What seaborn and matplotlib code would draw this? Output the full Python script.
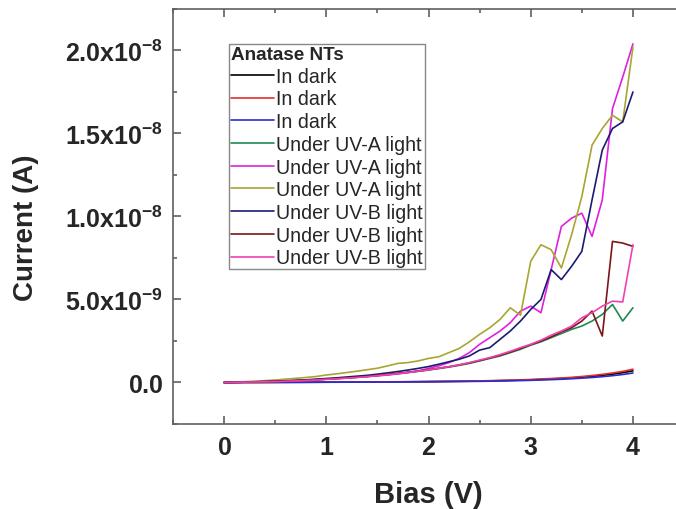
import numpy as np
import pandas as pd
import matplotlib
matplotlib.use("Agg")
import matplotlib.pyplot as plt
from matplotlib.ticker import MultipleLocator, FuncFormatter
import seaborn as sns

# Bias sweep, 0 to 4 V in 0.1 V steps
bias_v = [round(0.1 * i, 1) for i in range(41)]

# Measured currents in nA (1e-9 A)
dark_1_nA = [0, 0.002, 0.004, 0.005, 0.007, 0.009, 0.011, 0.012, 0.014, 0.016, 0.018,
             0.02, 0.023, 0.026, 0.028, 0.031, 0.034, 0.038, 0.042, 0.047, 0.052,
             0.058, 0.064, 0.07, 0.078, 0.086, 0.096, 0.11, 0.125, 0.14, 0.16,
             0.185, 0.21, 0.24, 0.275, 0.32, 0.37, 0.43, 0.5, 0.59, 0.70]
dark_2_nA = [0, 0.002, 0.004, 0.006, 0.008, 0.01, 0.012, 0.014, 0.016, 0.018, 0.02,
             0.023, 0.026, 0.029, 0.032, 0.035, 0.039, 0.043, 0.048, 0.054, 0.06,
             0.066, 0.073, 0.08, 0.088, 0.097, 0.11, 0.125, 0.14, 0.16, 0.18,
             0.21, 0.24, 0.27, 0.31, 0.36, 0.42, 0.49, 0.57, 0.67, 0.80]
dark_3_nA = [0, 0.001, 0.003, 0.004, 0.006, 0.007, 0.008, 0.01, 0.011, 0.013, 0.015,
             0.017, 0.019, 0.021, 0.023, 0.025, 0.028, 0.031, 0.035, 0.039, 0.043,
             0.048, 0.053, 0.058, 0.064, 0.07, 0.079, 0.09, 0.1, 0.115, 0.13,
             0.15, 0.17, 0.195, 0.225, 0.26, 0.3, 0.35, 0.41, 0.48, 0.57]
uva_1_nA = [0, 0.01, 0.02, 0.03, 0.045, 0.06, 0.08, 0.1, 0.13, 0.16, 0.2,
            0.23, 0.27, 0.31, 0.36, 0.42, 0.48, 0.54, 0.6, 0.67, 0.75,
            0.84, 0.93, 1.03, 1.15, 1.3, 1.45, 1.6, 1.8, 2.0, 2.25,
            2.45, 2.7, 2.95, 3.2, 3.4, 3.7, 4.1, 4.7, 3.7, 4.5]
uva_2_nA = [0, 0.01, 0.02, 0.03, 0.05, 0.07, 0.09, 0.11, 0.14, 0.17, 0.2,
            0.24, 0.28, 0.32, 0.36, 0.4, 0.45, 0.52, 0.6, 0.7, 0.85,
            1.0, 1.2, 1.45, 1.8, 2.3, 2.7, 3.1, 3.6, 4.3, 4.6,
            4.2, 6.8, 9.4, 9.9, 10.2, 8.8, 11.0, 16.5, 18.4, 20.4]
uva_3_nA = [0, 0.02, 0.05, 0.08, 0.11, 0.15, 0.2, 0.25, 0.3, 0.36, 0.45,
            0.52, 0.6, 0.68, 0.77, 0.86, 1.0, 1.15, 1.2, 1.3, 1.45,
            1.55, 1.8, 2.05, 2.45, 2.9, 3.3, 3.8, 4.5, 4.05, 7.3,
            8.3, 8.0, 6.9, 8.9, 11.2, 14.3, 15.3, 16.1, 15.7, 20.2]
uvb_1_nA = [0, 0.01, 0.02, 0.04, 0.06, 0.08, 0.1, 0.13, 0.16, 0.2, 0.24,
            0.28, 0.33, 0.38, 0.43, 0.5, 0.58, 0.66, 0.75, 0.85, 0.96,
            1.1, 1.25, 1.4, 1.6, 1.95, 2.1, 2.6, 3.1, 3.7, 4.4,
            5.0, 6.8, 6.2, 7.0, 7.9, 11.0, 14.0, 15.3, 15.7, 17.5]
uvb_2_nA = [0, 0.01, 0.02, 0.035, 0.05, 0.065, 0.085, 0.11, 0.135, 0.165, 0.2,
            0.24, 0.28, 0.32, 0.37, 0.43, 0.49, 0.55, 0.62, 0.69, 0.77,
            0.86, 0.95, 1.06, 1.18, 1.32, 1.48, 1.64, 1.83, 2.05, 2.28,
            2.5, 2.75, 3.05, 3.3, 3.7, 4.3, 2.8, 8.5, 8.4, 8.2]
uvb_3_nA = [0, 0.01, 0.02, 0.03, 0.04, 0.055, 0.075, 0.095, 0.12, 0.15, 0.19,
            0.22, 0.26, 0.3, 0.35, 0.41, 0.47, 0.53, 0.6, 0.68, 0.76,
            0.85, 0.95, 1.06, 1.2, 1.35, 1.5, 1.68, 1.88, 2.1, 2.3,
            2.55, 2.85, 3.1, 3.4, 3.9, 4.2, 4.6, 4.9, 4.85, 8.3]

series_labels = ["In dark", "In dark", "In dark",
                 "Under UV-A light", "Under UV-A light", "Under UV-A light",
                 "Under UV-B light", "Under UV-B light", "Under UV-B light"]
series_values = [dark_1_nA, dark_2_nA, dark_3_nA,
                 uva_1_nA, uva_2_nA, uva_3_nA,
                 uvb_1_nA, uvb_2_nA, uvb_3_nA]
series_colors = ["#000000", "#e0302c", "#2b2bd0",
                 "#1f8a50", "#e020e0", "#a9a532",
                 "#1b1b72", "#7a1616", "#f040b4"]

sns.set_style("ticks")
plt.rcParams["font.family"] = ["Liberation Sans", "DejaVu Sans"]
plt.rcParams["mathtext.fontset"] = "custom"
plt.rcParams["mathtext.rm"] = "Liberation Sans"
plt.rcParams["mathtext.bf"] = "Liberation Sans:bold"

fig = plt.figure(figsize=(6.76, 5.10), dpi=100)
ax = fig.add_axes([0.2559, 0.1667, 0.756, 0.8137])

for label, vals, color in zip(series_labels, series_values, series_colors):
    df = pd.DataFrame({"Bias": bias_v, "Current": np.array(vals) * 1e-9})
    sns.lineplot(data=df, x="Bias", y="Current", ax=ax, color=color,
                 linewidth=1.2, label=label, estimator=None, sort=False)

ax.set_xlim(-0.5, 4.5)
ax.set_ylim(-2.5e-9, 2.25e-8)
ax.xaxis.set_major_locator(MultipleLocator(1))
ax.xaxis.set_minor_locator(MultipleLocator(0.5))
ax.yaxis.set_major_locator(MultipleLocator(5e-9))
ax.yaxis.set_minor_locator(MultipleLocator(2.5e-9))


def sci_label(v, pos):
    if abs(v) < 1e-15:
        return r"$\mathbf{0.0}$"
    exp = int(np.floor(np.log10(abs(v)) + 1e-9))
    mant = v / 10.0 ** exp
    return r"$\mathbf{%.1fx10^{%d}}$" % (mant, exp)


ax.yaxis.set_major_formatter(FuncFormatter(sci_label))
ax.xaxis.set_major_formatter(FuncFormatter(lambda v, p: r"$\mathbf{%d}$" % round(v)))

spine_color = "#606060"
for s in ax.spines.values():
    s.set_color(spine_color)
    s.set_linewidth(1.2)
ax.tick_params(which="both", direction="in", top=True, right=True,
               color=spine_color, width=1.2)
ax.tick_params(which="major", length=6, pad=7)
ax.tick_params(axis="y", which="major", labelsize=18)
ax.tick_params(axis="x", which="major", labelsize=18, pad=8)
ax.tick_params(which="minor", length=3)

ax.set_xlabel("Bias (V)", fontsize=21, fontweight="bold")
ax.set_ylabel("Current (A)", fontsize=20, fontweight="bold")
ax.xaxis.set_label_coords(0.5, -0.135)
ax.yaxis.set_label_coords(-0.262, 0.475)

leg = ax.legend(loc="upper left", bbox_to_anchor=(0.1096, 0.9157),
                borderaxespad=0, title="Anatase NTs",
                title_fontproperties={"weight": "bold", "size": 13.6},
                alignment="left", fontsize=14.1, frameon=True, fancybox=False,
                edgecolor="#888888", framealpha=1, borderpad=0.1,
                handlelength=2.2, handletextpad=0.1, labelspacing=0.19)
leg.get_frame().set_linewidth(1.0)

fig.savefig("out.png", dpi=100)
